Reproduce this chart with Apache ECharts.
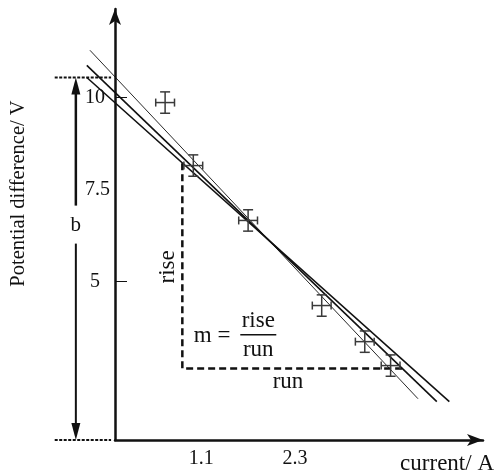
<!DOCTYPE html>
<html>
<head>
<meta charset="utf-8">
<script src="https://cdn.jsdelivr.net/npm/echarts@6/dist/echarts.min.js"></script>
<style>html,body{margin:0;padding:0;background:#fff}#c{width:495px;height:475px}</style>
</head>
<body>
<div id="c"></div>
<script>
// measured points (current / A, potential difference / V)
var currents = [0.64, 1.00, 1.70, 2.64, 3.19, 3.52];
var voltages = [9.86, 8.15, 6.66, 4.35, 3.37, 2.72];
var currentErr = [0.12, 0.12, 0.12, 0.12, 0.12, 0.12];
var voltageErr = [0.29, 0.29, 0.29, 0.29, 0.29, 0.29];
// three lines of fit (start and end points)
var lineMax = [[-0.32, 11.28], [3.87, 1.82]];
var lineBest = [[-0.36, 10.87], [4.11, 1.74]];
var lineMin = [[-0.36, 10.54], [4.27, 1.74]];
// rise / run triangle
var triangle = [[0.86, 8.21], [0.86, 2.64], [3.68, 2.64]];
// y intercept marker b
var bLevel = 10.54;
var bX = -0.50;
// axis labels
var yLabels = [5, 7.5, 10];
var yTicks = [5, 10];
var xLabels = [1.1, 2.3];
var yMin = 0.7, yMax = 12.4, xMin = 0, xMax = 4.7;

var FONT = 'Liberation Serif';
var chart = echarts.init(document.getElementById('c'), null, {renderer: 'canvas'});

var errData = currents.map(function (x, i) { return [x, voltages[i], currentErr[i], voltageErr[i]]; });
var fitLines = [
  {pts: lineMax, w: 0.9},
  {pts: lineBest, w: 1.6},
  {pts: lineMin, w: 1.6}
];
var fitData = fitLines.map(function (f) { return [f.pts[0][0], f.pts[0][1], f.pts[1][0], f.pts[1][1], f.w]; });

var option = {
  animation: false,
  grid: {left: 115, right: 12, top: 9, bottom: 35, containLabel: false, outerBoundsMode: 'none'},
  xAxis: {
    type: 'value', min: xMin, max: xMax,
    name: 'current/ A', nameLocation: 'end', nameGap: 11,
    nameTextStyle: {fontFamily: FONT, fontSize: 23, color: '#111', align: 'right', verticalAlign: 'top', padding: [12, 0, 0, 0]},
    axisLine: {lineStyle: {color: '#111', width: 2.5}, symbol: ['none', 'arrow'], symbolSize: [9, 16], symbolOffset: [0, 0]},
    axisTick: {show: false},
    splitLine: {show: false},
    axisLabel: {customValues: xLabels, fontFamily: FONT, fontSize: 20, color: '#111', margin: 9}
  },
  yAxis: {
    type: 'value', min: yMin, max: yMax,
    name: 'Potential difference/ V', nameLocation: 'middle', nameRotate: 90, nameGap: 86,
    nameTextStyle: {fontFamily: FONT, fontSize: 20.5, color: '#111', padding: [0, 0, 0, 62]},
    axisLine: {lineStyle: {color: '#111', width: 2.5}, symbol: ['none', 'arrow'], symbolSize: [9, 16], symbolOffset: [0, 0]},
    axisTick: {show: true, inside: true, length: 12, customValues: yTicks, lineStyle: {color: '#111', width: 1}},
    splitLine: {show: false},
    axisLabel: {
      customValues: yLabels, fontFamily: FONT, fontSize: 20, color: '#111', margin: 5,
      formatter: function (v) { return v === 10 ? '{a|10}' : (v === 5 ? '{b|5}' : '{c|7.5}'); },
      rich: {
        a: {fontFamily: FONT, fontSize: 20, color: '#111', padding: [0, 5, 0, 0]},
        b: {fontFamily: FONT, fontSize: 20, color: '#111', padding: [0, 10, 0, 0]},
        c: {fontFamily: FONT, fontSize: 20, color: '#111'}
      }
    }
  },
  series: [
    {
      type: 'custom', data: fitData, clip: false, z: 3,
      renderItem: function (params, api) {
        var a = api.coord([api.value(0), api.value(1)]);
        var b = api.coord([api.value(2), api.value(3)]);
        return {type: 'line', shape: {x1: a[0], y1: a[1], x2: b[0], y2: b[1]}, style: {stroke: '#111', lineWidth: api.value(4)}};
      }
    },
    {type: 'line', data: triangle, clip: false, symbol: 'none', lineStyle: {color: '#111', width: 2.5, type: [7, 4]}, z: 2},
    {
      type: 'custom', data: errData, clip: false, z: 4,
      renderItem: function (params, api) {
        var x = api.value(0), y = api.value(1), ex = api.value(2), ey = api.value(3);
        var l = api.coord([x - ex, y]), r = api.coord([x + ex, y]);
        var t = api.coord([x, y + ey]), b = api.coord([x, y - ey]);
        var cap = 5;
        var st = {stroke: '#3a3a3a', lineWidth: 1.5, fill: null};
        return {type: 'group', children: [
          {type: 'line', shape: {x1: l[0], y1: l[1], x2: r[0], y2: r[1]}, style: st},
          {type: 'line', shape: {x1: t[0], y1: t[1], x2: b[0], y2: b[1]}, style: st},
          {type: 'line', shape: {x1: t[0] - cap, y1: t[1], x2: t[0] + cap, y2: t[1]}, style: st},
          {type: 'line', shape: {x1: b[0] - cap, y1: b[1], x2: b[0] + cap, y2: b[1]}, style: st},
          {type: 'line', shape: {x1: l[0], y1: l[1] - 4, x2: l[0], y2: l[1] + 4}, style: st},
          {type: 'line', shape: {x1: r[0], y1: r[1] - 4, x2: r[0], y2: r[1] + 4}, style: st}
        ]};
      }
    }
  ]
};
chart.setOption(option);

function px(v) { return chart.convertToPixel({gridIndex: 0}, v); }
var pTop = px([bX, bLevel]), pBot = px([bX, yMin]);
var dashL = px([-0.77, bLevel]), dashR = px([-0.05, bLevel]);
var dashL2 = px([-0.77, yMin]), dashR2 = px([-0.05, yMin]);
var bPos = px([bX, 6.52]);
var risePos = px([0.67, 5.4]);
var mPos = px([1.24, 3.53]);
var fracPos = px([1.83, 3.56]);
var runPos = px([2.21, 2.28]);
var tS = {fontFamily: FONT, fontSize: 23, fill: '#111'};
function T(text, p, extra, rot) {
  var s = Object.assign({}, tS, {text: text, align: 'center', verticalAlign: 'middle'}, extra || {});
  return {type: 'text', x: p[0], y: p[1], rotation: rot || 0, style: s};
}
var aw = 4.5, ah = 16;
chart.setOption({graphic: [
  {type: 'line', shape: {x1: dashL[0], y1: dashL[1], x2: dashR[0], y2: dashR[1]}, style: {stroke: '#111', lineWidth: 2, lineDash: [3, 1.5]}},
  {type: 'line', shape: {x1: dashL2[0], y1: dashL2[1], x2: dashR2[0], y2: dashR2[1]}, style: {stroke: '#111', lineWidth: 2, lineDash: [3, 1.5]}},
  {type: 'line', shape: {x1: pTop[0], y1: pTop[1] + ah, x2: pTop[0], y2: bPos[1] - 20}, style: {stroke: '#111', lineWidth: 2.5}},
  {type: 'polygon', shape: {points: [[pTop[0], pTop[1]], [pTop[0] - aw, pTop[1] + ah + 1], [pTop[0] + aw, pTop[1] + ah + 1]]}, style: {fill: '#111'}},
  {type: 'line', shape: {x1: pBot[0], y1: pBot[1] - ah, x2: pBot[0], y2: bPos[1] + 18}, style: {stroke: '#111', lineWidth: 2}},
  {type: 'polygon', shape: {points: [[pBot[0], pBot[1]], [pBot[0] - aw, pBot[1] - ah - 1], [pBot[0] + aw, pBot[1] - ah - 1]]}, style: {fill: '#111'}},
  T('b', bPos, {fontSize: 21}),
  T('rise', risePos, {}, Math.PI / 2),
  T('m =', mPos),
  T('rise', [fracPos[0], fracPos[1] - 14]),
  {type: 'line', shape: {x1: fracPos[0] - 18, y1: fracPos[1], x2: fracPos[0] + 18, y2: fracPos[1]}, style: {stroke: '#111', lineWidth: 1.5}},
  T('run', [fracPos[0], fracPos[1] + 15]),
  T('run', runPos)
]});
</script>
</body>
</html>
